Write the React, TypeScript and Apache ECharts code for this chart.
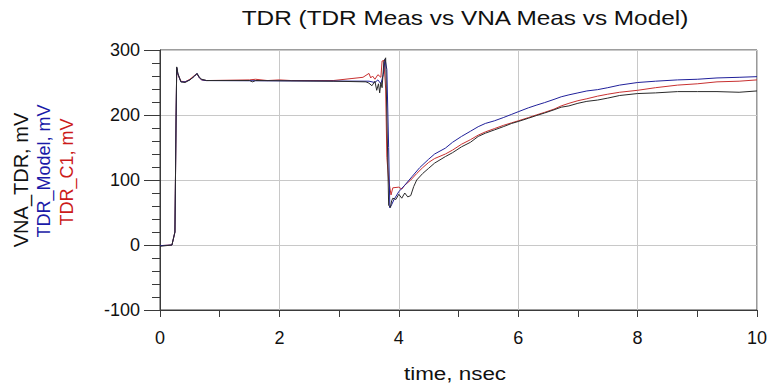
import React, { useEffect, useRef } from "react";
import * as echarts from "echarts";

const titleText = "TDR (TDR Meas vs VNA Meas vs Model)";
const xName = "time, nsec";
const yNames = ["VNA_TDR, mV", "TDR_Model, mV", "TDR_C1, mV"];

const xTicks = { min: 0, max: 10, interval: 2 };
const yTicks = { min: -100, max: 300, interval: 100 };

// VNA_TDR (black)
const vnaTime = [0, 0.2, 0.25, 0.27, 0.28, 0.3, 0.35, 0.42, 0.5, 0.58, 0.62, 0.66, 0.7, 0.78, 1.5, 1.55, 1.6, 2.9, 3.45, 3.5, 3.55, 3.6, 3.63, 3.66, 3.68, 3.7, 3.72, 3.75, 3.78, 3.8, 3.83, 3.86, 3.88, 3.9, 3.95, 4.0, 4.05, 4.1, 4.15, 4.2, 4.25, 4.3, 4.4, 4.5, 4.6, 4.78, 4.9, 5.05, 5.2, 5.33, 5.45, 5.6, 5.75, 5.89, 6.0, 6.17, 6.3, 6.44, 6.6, 6.72, 6.85, 7.0, 7.15, 7.33, 7.5, 7.7, 8.0, 8.3, 8.67, 9.0, 9.33, 9.7, 10];
const vnaValues = [-2, 0, 20, 200, 274, 264, 251, 250, 254, 260, 264, 258, 255, 253, 253, 251, 253, 252, 251, 249, 245, 252, 238, 248, 234, 250, 242, 282, 288, 200, 61, 58, 68, 72, 70, 78, 72, 80, 74, 76, 90, 100, 110, 118, 126, 136, 142, 151, 158, 167, 172, 177, 182, 187, 190, 195, 199, 203, 208, 212, 214, 218, 221, 223, 226, 230, 233, 234, 236, 236, 236, 235, 237];

// TDR_C1 (red)
const c1Time = [0, 0.2, 0.25, 0.27, 0.28, 0.3, 0.35, 0.42, 0.5, 0.58, 0.62, 0.66, 0.7, 0.78, 1.5, 1.6, 1.8, 2.0, 2.2, 2.9, 3.2, 3.4, 3.5, 3.53, 3.56, 3.6, 3.65, 3.7, 3.72, 3.75, 3.78, 3.8, 3.83, 3.87, 3.9, 4.0, 4.05, 4.1, 4.2, 4.3, 4.4, 4.5, 4.6, 4.78, 4.9, 5.05, 5.2, 5.33, 5.45, 5.6, 5.75, 5.89, 6.0, 6.17, 6.3, 6.44, 6.6, 6.72, 6.85, 7.0, 7.15, 7.33, 7.5, 7.7, 8.0, 8.3, 8.67, 9.0, 9.33, 9.7, 10];
const c1Values = [-1, 0, 20, 200, 272, 262, 252, 251, 255, 261, 263, 257, 254, 253, 254, 255, 253, 254, 253, 253, 256, 258, 264, 257, 260, 255, 262, 258, 283, 284, 240, 135, 100, 77, 88, 89, 86, 92, 100, 110, 119, 127, 133, 140, 146, 155, 162, 169, 174, 179, 184, 188, 191, 196, 200, 204, 209, 214, 218, 222, 225, 229, 232, 235, 238, 242, 246, 248, 251, 252, 254];

// TDR_Model (blue)
const modelTime = [0, 0.2, 0.25, 0.27, 0.28, 0.3, 0.35, 0.42, 0.5, 0.58, 0.62, 0.66, 0.7, 0.78, 3.5, 3.6, 3.65, 3.7, 3.74, 3.77, 3.8, 3.83, 3.85, 3.88, 3.92, 4.0, 4.1, 4.22, 4.35, 4.5, 4.6, 4.78, 4.9, 5.05, 5.2, 5.33, 5.45, 5.6, 5.75, 5.89, 6.0, 6.17, 6.3, 6.44, 6.6, 6.72, 6.85, 7.0, 7.15, 7.33, 7.5, 7.7, 8.0, 8.3, 8.67, 9.0, 9.33, 9.7, 10];
const modelValues = [-1, 0, 20, 200, 273, 263, 251, 251, 254, 260, 264, 257, 254, 253, 252, 250, 254, 248, 262, 286, 270, 150, 57, 62, 70, 82, 92, 105, 119, 132, 140, 149, 158, 167, 175, 182, 187, 191, 196, 201, 205, 211, 215, 219, 224, 228, 231, 234, 237, 239, 242, 246, 250, 252, 254, 255, 257, 258, 259];

const pairs = (t: number[], v: number[]) => t.map((x, i) => [x, v[i]]);

export default function App() {
  const ref = useRef<HTMLDivElement>(null);
  useEffect(() => {
    if (!ref.current) return;
    const chart = echarts.init(ref.current, undefined, { renderer: "svg" });
    const font = "'Liberation Sans', Arial, sans-serif";
    chart.setOption({
      animation: false,
      backgroundColor: "#ffffff",
      grid: {
        left: 160,
        right: 10,
        top: 50,
        bottom: 75,
        show: true,
        borderColor: "#3a3a3a",
        borderWidth: 1,
      },
      xAxis: {
        type: "value",
        min: xTicks.min,
        max: xTicks.max,
        interval: xTicks.interval,
        axisLine: { show: true, onZero: false, lineStyle: { color: "#3a3a3a", width: 1 } },
        axisTick: { show: true, length: 7, lineStyle: { color: "#3a3a3a" } },
        minorTick: { show: true, splitNumber: 2, length: 7, lineStyle: { color: "#3a3a3a" } },
        splitLine: { show: true, lineStyle: { color: "#c8c8c8", width: 1 } },
        axisLabel: { fontSize: 18, color: "#111", fontFamily: font, margin: 19 },
      },
      yAxis: {
        type: "value",
        min: yTicks.min,
        max: yTicks.max,
        interval: yTicks.interval,
        axisLine: { show: true, onZero: false, lineStyle: { color: "#3a3a3a", width: 1 } },
        axisTick: { show: true, length: 16, lineStyle: { color: "#3a3a3a" } },
        minorTick: { show: true, splitNumber: 5, length: 8, lineStyle: { color: "#3a3a3a" } },
        splitLine: { show: true, lineStyle: { color: "#c8c8c8", width: 1 } },
        axisLabel: { fontSize: 18, color: "#111", fontFamily: font, margin: 20 },
      },
      graphic: [
        {
          type: "text",
          x: 465,
          y: 18,
          scaleX: 1.16,
          style: {
            text: titleText,
            font: `21px ${font}`,
            fill: "#111",
            textAlign: "center",
            textVerticalAlign: "middle",
          },
        },
        {
          type: "text",
          x: 455,
          y: 373,
          scaleX: 1.18,
          style: {
            text: xName,
            font: `19px ${font}`,
            fill: "#111",
            textAlign: "center",
            textVerticalAlign: "middle",
          },
        },
        {
          type: "text",
          x: 21,
          y: 180,
          rotation: Math.PI / 2,
          style: {
            text: yNames[0],
            font: `20px ${font}`,
            fill: "#111",
            textAlign: "center",
            textVerticalAlign: "middle",
          },
        },
        {
          type: "text",
          x: 44,
          y: 171,
          rotation: Math.PI / 2,
          style: {
            text: yNames[1],
            font: `18px ${font}`,
            fill: "#1a1aa8",
            textAlign: "center",
            textVerticalAlign: "middle",
          },
        },
        {
          type: "text",
          x: 67,
          y: 172,
          rotation: Math.PI / 2,
          style: {
            text: yNames[2],
            font: `18px ${font}`,
            fill: "#cc1a1a",
            textAlign: "center",
            textVerticalAlign: "middle",
          },
        },
      ],
      series: [
        {
          name: "TDR_C1",
          type: "line",
          data: pairs(c1Time, c1Values),
          showSymbol: false,
          lineStyle: { color: "#c83030", width: 1 },
          z: 2,
        },
        {
          name: "TDR_Model",
          type: "line",
          data: pairs(modelTime, modelValues),
          showSymbol: false,
          lineStyle: { color: "#20209a", width: 1 },
          z: 3,
        },
        {
          name: "VNA_TDR",
          type: "line",
          data: pairs(vnaTime, vnaValues),
          showSymbol: false,
          lineStyle: { color: "#2a2a2a", width: 1 },
          z: 4,
        },
      ],
    });
    return () => chart.dispose();
  }, []);
  return (
    <div
      ref={ref}
      style={{ position: "fixed", left: 0, top: 0, width: 770, height: 385 }}
    />
  );
}
